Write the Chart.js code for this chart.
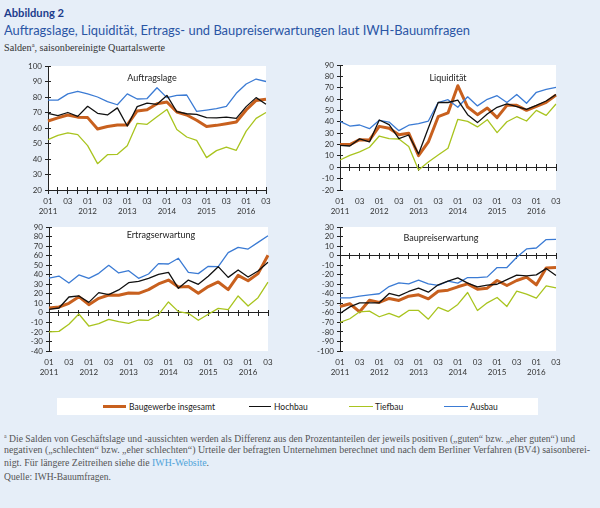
<!DOCTYPE html>
<html lang="de">
<head>
<meta charset="utf-8">
<script src="https://cdn.jsdelivr.net/npm/chart.js@4.4.1/dist/chart.umd.min.js"></script>
<style>
  html, body { margin: 0; padding: 0; }
  body { width: 600px; height: 508px; background: #e6eef8; position: relative; overflow: hidden; font-family: Lato, "Noto Sans", sans-serif; }
  .abs { position: absolute; white-space: nowrap; }
  canvas { position: absolute; }
  .ptitle { position: absolute; width: 200px; text-align: center; font-size: 9px; line-height: 12px; color: #222; }
  .serif { font-family: "Liberation Serif", "DejaVu Serif", serif; }
  .fit { display: inline-block; transform-origin: 0 50%; }
  .leg-line { position: absolute; }
  .leg-text { position: absolute; font-size: 8.5px; line-height: 12px; color: #222; white-space: nowrap; }
</style>
</head>
<body>
<div class="abs fit" data-fit="60" style="left:4px;top:7px;font-size:10.5px;line-height:12px;font-weight:bold;color:#1d3c8c;">Abbildung 2</div>
<div class="abs fit" data-fit="466" style="left:4px;top:22px;font-size:13.5px;line-height:16px;color:#2a55a5;">Auftragslage, Liquidität, Ertrags- und Baupreiserwartungen laut IWH-Bauumfragen</div>
<div class="abs fit serif" data-fit="161" style="left:4px;top:39px;font-size:9.5px;line-height:12px;color:#333;">Salden<sup style="font-size:6px;">a</sup>, saisonbereinigte Quartalswerte</div>

<canvas id="c1" width="264" height="158" style="left:8px;top:60px;"></canvas>
<canvas id="c2" width="262" height="159" style="left:300px;top:59px;"></canvas>
<canvas id="c3" width="265" height="158" style="left:9px;top:221px;"></canvas>
<canvas id="c4" width="262" height="158" style="left:300px;top:221px;"></canvas>

<div class="ptitle" style="left:52px;top:72px;">Auftragslage</div>
<div class="ptitle" style="left:348px;top:72px;">Liquidität</div>
<div class="ptitle" style="left:61px;top:229px;">Ertragserwartung</div>
<div class="ptitle" style="left:341px;top:232px;">Baupreiserwartung</div>

<div style="position:absolute;left:57px;top:398px;width:481px;height:17px;background:#fff;"></div>
<div id="legend"></div>

<div class="abs fit serif" data-fit="571" style="left:4px;top:430px;font-size:10px;line-height:13px;color:#555;"><sup style="font-size:6px;">a</sup> Die Salden von Geschäftslage und -aussichten werden als Differenz aus den Prozentanteilen der jeweils positiven („guten“ bzw. „eher guten“) und</div>
<div class="abs fit serif" data-fit="586" style="left:4px;top:443px;font-size:10px;line-height:13px;color:#555;">negativen („schlechten“ bzw. „eher schlechten“) Urteile der befragten Unternehmen berechnet und nach dem Berliner Verfahren (BV4) saisonberei-</div>
<div class="abs fit serif" data-fit="205" style="left:4px;top:456px;font-size:10px;line-height:13px;color:#555;">nigt. Für längere Zeitreihen siehe die <span style="color:#4fa3d9;">IWH-Website</span>.</div>
<div class="abs fit serif" data-fit="107" style="left:4px;top:470px;font-size:10px;line-height:13px;color:#555;">Quelle: IWH-Bauumfragen.</div>

<script>
// ---- Data ----
const categories = ['2011 Q1','2011 Q2','2011 Q3','2011 Q4','2012 Q1','2012 Q2','2012 Q3','2012 Q4',
  '2013 Q1','2013 Q2','2013 Q3','2013 Q4','2014 Q1','2014 Q2','2014 Q3','2014 Q4',
  '2015 Q1','2015 Q2','2015 Q3','2015 Q4','2016 Q1','2016 Q2','2016 Q3'];
const tickLabels = [['01','2011'],'','03','',['01','2012'],'','03','',['01','2013'],'','03','',
  ['01','2014'],'','03','',['01','2015'],'','03','',['01','2016'],'','03'];
const seriesNames = ['Baugewerbe insgesamt','Hochbau','Tiefbau','Ausbau'];
const panelTitles = ['Auftragslage','Liquidität','Ertragserwartung','Baupreiserwartung'];

const auftragBau  = [64.5,66.5,68.4,67,66.7,59.4,61,62,62,71,71.8,75.7,76.8,70.3,68.4,65,61,61.7,62.8,63.9,71.6,77.8,78.5];
const auftragHoch = [69.5,68,70,67.5,74,69.5,68.4,73,61.3,73.8,76,75.3,81,70.5,69.2,68.8,66.7,66.5,67,66.2,73.8,79.6,75.3];
const auftragTief = [52.5,55.3,56.8,55.7,48.6,37,42.8,43,48.6,63,62.4,67.3,72,59,54.2,52,40.9,45.4,47.7,45.6,58,66.2,70];
const auftragAus  = [78,78,82,83.7,82,80,77,75,82,78.7,79,86,79.6,81,81.3,70.7,71.6,72.5,74,82.4,88.4,91.6,90];

const liqBau  = [20,20,24.3,24,36,34.3,28.7,30,10.2,22.3,44.5,47.8,71.8,53,46.3,52.2,43.7,54.5,54.5,50.1,53.6,57.2,63.6];
const liqHoch = [19.3,18.7,25,22.3,41.6,37.5,25.2,28.4,11.7,34.6,57,57,59,46.3,39.3,46.9,52.8,55.7,53.3,51,54.5,58.3,64];
const liqTief = [6.4,10.5,13.5,17.6,27.5,25.2,24.9,18.2,-2.4,4.7,10.8,16.7,42.2,40.4,35.5,41.9,30.5,40.1,44.5,40.7,50.1,45.7,55.7];
const liqAus  = [40.4,36.3,37.2,34,41.3,39.8,32.2,37,38.4,40.7,57,59.5,52.8,62,54,59.8,63,57,64,56.3,66,68.6,70.4];

const ertragBau  = [5.1,6.1,10,17,8.6,15.2,18.7,18.4,20.8,20.5,24.3,30.3,34.4,27.1,27.5,20.5,27.5,32.4,24.3,39.3,33.7,41.1,60.3];
const ertragHoch = [3.7,5.1,16.6,17.7,11,21.2,19.1,24,31.6,33,36.2,40.4,42.5,25.7,34.4,29.9,38.3,48.4,37.2,44.9,37.6,43.9,53];
const ertragTief = [-20,-19.4,-12,-1.2,-13.8,-11.3,-6.8,-9.2,-11,-7.5,-7.8,-1.9,11.4,1.3,-0.5,-7.8,-1.5,4.7,3.3,17.7,7.2,15.9,32.3];
const ertragAus  = [36.5,38.6,31.3,39.7,36.2,41.4,49.8,41.8,44.2,36.2,40.7,51.6,51.2,57.2,42.5,41.1,48.8,48.4,63.1,68.7,66.9,73.9,80.9];

const preisBau  = [-53.3,-50.5,-58.9,-46.7,-49.1,-44.9,-47,-42.5,-41.1,-45.3,-37.3,-36.2,-32.7,-29.6,-35.2,-34.1,-26.1,-31.3,-26.1,-22.6,-30.6,-12.9,-12.5];
const preisHoch = [-60.6,-53.7,-49.5,-49.5,-49.5,-39.7,-42.2,-37.6,-34.1,-38.3,-30.6,-26.8,-23.3,-28.9,-32.7,-31,-30,-25.1,-20.5,-21.2,-20.2,-13.6,-20.9];
const preisTief = [-70,-66.2,-58.9,-58.2,-64.1,-60.6,-64.5,-57.5,-57.5,-66.6,-54.3,-58.5,-51.2,-38.7,-57.5,-49.5,-43.9,-53.3,-37.3,-40.4,-44.6,-31.7,-33.8];
const preisAus  = [-44.2,-44.2,-42.5,-41.1,-40,-32.4,-28.6,-29.6,-25.8,-29.6,-31.3,-26.8,-28.9,-23,-23,-22.3,-12.5,-12.5,-1.7,7,8,16.8,17.1];

// y-axis ranges [min, max, crossing of x axis line]
const rangeAuftrag = [20, 100, 20];
const rangeLiq = [-20, 90, 0];
const rangeErtrag = [-40, 90, 0];
const rangePreis = [-100, 30, 0];

// ---- Styles ----
const colors = ['#c8601e', '#111111', '#a9c41f', '#3b7bd4'];
const widths = [3, 1.3, 1.3, 1.3];
const orders = [3, 0, 2, 1];
const axisColor = '#222';
const tickFont = { family: 'Lato, "Noto Sans", sans-serif', size: 8 };
const tickColor = '#333';

const whiteArea = {
  id: 'whiteArea',
  beforeDraw(chart) {
    const { ctx, chartArea: a } = chart;
    ctx.save();
    ctx.fillStyle = '#ffffff';
    ctx.fillRect(a.left, a.top, a.right - a.left, a.bottom - a.top);
    ctx.restore();
  }
};

function makePanel(id, series, range) {
  const [yMin, yMax, cross] = range;
  return new Chart(document.getElementById(id), {
    type: 'line',
    data: {
      labels: categories,
      datasets: series.map((d, i) => ({
        label: seriesNames[i], data: d, borderColor: colors[i], backgroundColor: colors[i],
        borderWidth: widths[i], order: orders[i], pointRadius: 0, tension: 0, fill: false,
        borderJoinStyle: 'round', borderCapStyle: 'butt'
      }))
    },
    options: {
      responsive: false, animation: false, devicePixelRatio: 1,
      layout: { padding: { top: 6, right: 6, left: 0, bottom: 0 } },
      plugins: { legend: { display: false }, tooltip: { enabled: false }, title: { display: false } },
      scales: {
        x: {
          axis: 'x', type: 'category', position: 'bottom', offset: false,
          grid: { display: false, drawTicks: false },
          border: { display: false },
          ticks: { autoSkip: false, maxRotation: 0, minRotation: 0, padding: 7, font: tickFont, color: tickColor,
                   callback: (v, i) => tickLabels[i] },
          afterFit: s => { s.height = 28; s.paddingLeft = 0; s.paddingRight = 0; }
        },
        xz: {
          axis: 'x', type: 'category', position: { y: cross }, offset: false,
          grid: { drawOnChartArea: false, drawTicks: true, tickLength: 3, color: axisColor, lineWidth: 1 },
          border: { display: true, color: axisColor, width: 1 },
          ticks: { display: false, autoSkip: false }
        },
        xz2: {
          axis: 'x', type: 'category', position: { y: cross }, offset: false,
          grid: { drawOnChartArea: false, drawTicks: true, tickLength: -3, color: axisColor, lineWidth: 1 },
          border: { display: false },
          ticks: { display: false, autoSkip: false }
        },
        y: {
          axis: 'y', type: 'linear', position: 'left', min: yMin, max: yMax,
          grid: { drawOnChartArea: false, drawTicks: true, tickLength: 3, color: axisColor },
          border: { display: true, color: axisColor, width: 1 },
          ticks: { stepSize: 10, autoSkip: false, padding: 3, font: tickFont, color: tickColor },
          afterFit: s => { s.width = 40; s.paddingTop = 0; s.paddingBottom = 0; }
        },
        y2: {
          axis: 'y', type: 'linear', position: { x: 0 }, min: yMin, max: yMax,
          grid: { drawOnChartArea: false, drawTicks: true, tickLength: -3, color: axisColor },
          border: { display: false },
          ticks: { display: false, stepSize: 10, autoSkip: false }
        }
      }
    },
    plugins: [whiteArea]
  });
}

makePanel('c1', [auftragBau, auftragHoch, auftragTief, auftragAus], rangeAuftrag);
makePanel('c2', [liqBau, liqHoch, liqTief, liqAus], rangeLiq);
makePanel('c3', [ertragBau, ertragHoch, ertragTief, ertragAus], rangeErtrag);
makePanel('c4', [preisBau, preisHoch, preisTief, preisAus], rangePreis);

// ---- Legend (HTML) ----
const legendLines = [[103, 126], [249, 271], [349, 373], [444, 468]];
const legendTextX = [129, 274, 375, 470];
const legendLineW = [2.5, 1.6, 1.6, 1.6];
const legend = document.getElementById('legend');
seriesNames.forEach((name, i) => {
  const l = document.createElement('div');
  l.className = 'leg-line';
  l.style.left = legendLines[i][0] + 'px';
  l.style.width = (legendLines[i][1] - legendLines[i][0]) + 'px';
  l.style.top = (406.5 - legendLineW[i] / 2) + 'px';
  l.style.height = legendLineW[i] + 'px';
  l.style.background = colors[i];
  legend.appendChild(l);
  const t = document.createElement('div');
  t.className = 'leg-text';
  t.style.left = legendTextX[i] + 'px';
  t.style.top = '400.5px';
  t.textContent = name;
  legend.appendChild(t);
});

function fitAll() {
  document.querySelectorAll('[data-fit]').forEach(el => {
    el.style.transform = 'none';
    const w = el.getBoundingClientRect().width;
    const target = parseFloat(el.dataset.fit);
    if (w > 0) el.style.transform = 'scaleX(' + (target / w) + ')';
  });
}
fitAll();
if (document.fonts && document.fonts.ready) document.fonts.ready.then(fitAll);
</script>
</body>
</html>
